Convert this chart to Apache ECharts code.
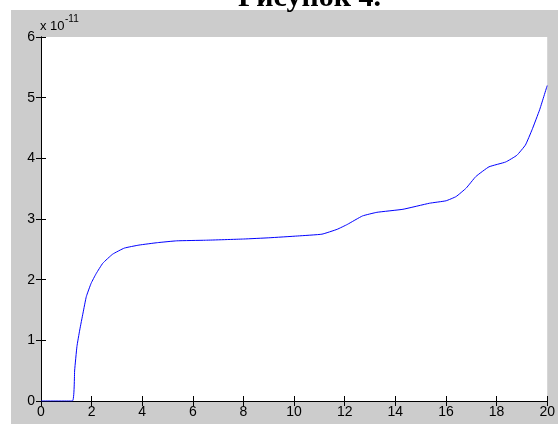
<!DOCTYPE html>
<html>
<head>
<meta charset="utf-8">
<script src="https://cdn.jsdelivr.net/npm/echarts@6/dist/echarts.min.js"></script>
<style>
html,body{margin:0;padding:0;background:#fff;}
#c{width:558px;height:424px;}
</style>
</head>
<body>
<div id="c"></div>
<script>
// x values (time) and y values (units of 1e-11)
var xValues = [0, 1.24, 1.33, 1.42, 1.53, 1.66, 1.79, 1.98, 2.18, 2.44, 2.83, 3.29, 3.87, 4.6, 5.36, 6.5, 8, 9, 10.14, 11.1, 11.7, 12.1, 12.7, 13.27, 14.3, 15.35, 16.0, 16.4, 16.8, 17.18, 17.7, 18.36, 18.8, 19.14, 19.4, 19.7, 20];
var yValues = [0, 0, 0.51, 0.90, 1.17, 1.45, 1.72, 1.94, 2.10, 2.27, 2.42, 2.52, 2.57, 2.61, 2.64, 2.65, 2.67, 2.69, 2.72, 2.75, 2.83, 2.91, 3.05, 3.11, 3.16, 3.26, 3.30, 3.37, 3.51, 3.70, 3.86, 3.94, 4.05, 4.22, 4.47, 4.8, 5.2];
var xTicks = [0, 2, 4, 6, 8, 10, 12, 14, 16, 18, 20];
var yTicks = [0, 1, 2, 3, 4, 5, 6];
var titleText = 'Рисунок 4.';
var exponentBase = 'x 10';
var exponentPower = '-11';

var chart = echarts.init(document.getElementById('c'), null, {renderer: 'canvas'});
var data = xValues.map(function (x, i) { return [x, yValues[i]]; });
var axisCommon = {
  type: 'value',
  axisLine: {show: true, lineStyle: {color: '#000', width: 1}},
  axisTick: {show: true, inside: true, length: 5, lineStyle: {color: '#000'}},
  splitLine: {show: false}
};
var labelStyle = {color: '#000', fontFamily: 'Liberation Sans, Arial, sans-serif', fontSize: 14};
chart.setOption({
  backgroundColor: '#ffffff',
  animation: false,
  grid: {left: 41, top: 37, width: 511, height: 364, show: true, backgroundColor: '#fff', borderWidth: 0},
  xAxis: [
    Object.assign({}, axisCommon, {position: 'bottom', min: xTicks[0], max: xTicks[xTicks.length - 1], interval: 2,
      axisLabel: Object.assign({margin: 4}, labelStyle)}),
    Object.assign({}, axisCommon, {position: 'top', min: xTicks[0], max: xTicks[xTicks.length - 1], interval: 2,
      axisLabel: {show: false}})
  ],
  yAxis: [
    Object.assign({}, axisCommon, {position: 'left', min: yTicks[0], max: yTicks[yTicks.length - 1], interval: 1,
      axisLabel: Object.assign({margin: 6}, labelStyle)}),
    Object.assign({}, axisCommon, {position: 'right', min: yTicks[0], max: yTicks[yTicks.length - 1], interval: 1,
      axisLabel: {show: false}})
  ],
  graphic: [
    {type: 'rect', z: -10, silent: true, shape: {x: 11, y: 10, width: 547, height: 414}, style: {fill: '#cccccc'}},
    {type: 'text', z: 10, style: {x: 238, y: -17, text: titleText, fill: '#000',
      font: 'bold 30px "Liberation Serif", "Times New Roman", serif', textAlign: 'left', textVerticalAlign: 'top'}},
    {type: 'text', z: 10, style: {x: 40, y: 20, text: exponentBase, fill: '#000',
      font: '13px "Liberation Sans", Arial, sans-serif', textAlign: 'left', textVerticalAlign: 'top'}},
    {type: 'text', z: 10, style: {x: 65, y: 14, text: exponentPower, fill: '#000',
      font: '10px "Liberation Sans", Arial, sans-serif', textAlign: 'left', textVerticalAlign: 'top'}}
  ],
  series: [{
    type: 'line',
    xAxisIndex: 0,
    yAxisIndex: 0,
    data: data,
    showSymbol: false,
    smooth: 0.12,
    lineStyle: {color: '#0000ff', width: 1},
    clip: true
  }]
});
</script>
</body>
</html>
